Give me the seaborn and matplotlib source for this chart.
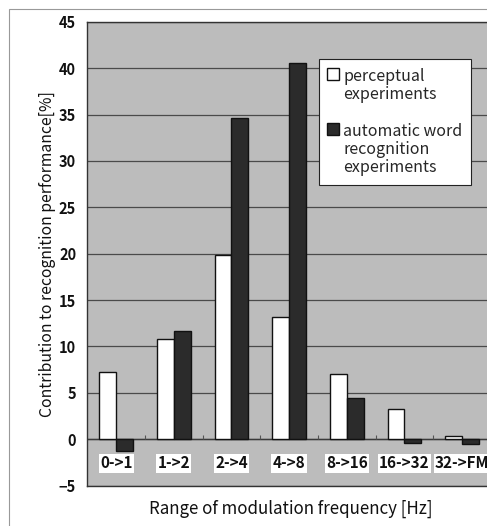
import matplotlib
matplotlib.use("Agg")
import matplotlib.pyplot as plt
import matplotlib.patches as mpatches
import seaborn as sns
import pandas as pd

categories = ["0->1", "1->2", "2->4", "4->8", "8->16", "16->32", "32->FM"]
perceptual = [7.25, 10.85, 19.85, 13.15, 7.05, 3.3, 0.35]
automatic = [-1.25, 11.7, 34.6, 40.6, 4.5, -0.45, -0.5]
series_names = ["perceptual\nexperiments", "automatic word\nrecognition\nexperiments"]

sns.set_theme(style="white")
plt.rcParams["font.family"] = ["Noto Sans CJK JP", "DejaVu Sans"]

df = pd.DataFrame({
    "cat": categories * 2,
    "val": perceptual + automatic,
    "series": [series_names[0]] * len(categories) + [series_names[1]] * len(categories),
})

W, H = 487, 526
fig = plt.figure(figsize=(W / 100, H / 100), dpi=100)
ax = fig.add_axes([87.3 / W, 1 - 485.7 / H, (491 - 87.3) / W, (485.7 - 21.7) / H])
ax.set_facecolor("#bcbcbc")

sns.barplot(data=df, x="cat", y="val", hue="series", order=categories,
            hue_order=series_names, palette=["#ffffff", "#2b2b2b"],
            width=0.58, edgecolor="#111111", linewidth=1.0, ax=ax, zorder=3)

ax.set_ylim(-5, 45)
ax.set_xlim(-0.5, 6.5)
ax.set_yticks(range(-5, 50, 5))
ax.yaxis.grid(True, color="#4a4a4a", linewidth=0.9, zorder=1)
ax.set_axisbelow(True)
ax.axhline(0, color="#3a3a3a", linewidth=1.0, zorder=2)
ax.vlines([i + 0.5 for i in range(len(categories) - 1)], 0, 0.45,
          color="#555555", linewidth=0.8, zorder=2)

for s in ["left", "bottom", "right"]:
    ax.spines[s].set_color("#333333")
    ax.spines[s].set_linewidth(1.0)
ax.spines["top"].set_color("#333333")
ax.spines["top"].set_linestyle((0, (1, 1)))
ax.spines["top"].set_linewidth(1.0)

ax.tick_params(axis="y", length=0, pad=8, labelsize=10.5, colors="#111111")
for lab in ax.get_yticklabels():
    lab.set_fontweight("bold")
ax.set_xticks(range(len(categories)))
ax.set_xticklabels(categories, fontweight="bold")
ax.tick_params(axis="x", length=0, pad=-22, labelsize=11, colors="#111111")
for lab in ax.get_xticklabels():
    lab.set_bbox(dict(facecolor="white", edgecolor="none", pad=1.0))
    lab.set_zorder(4)

ax.set_ylabel("Contribution to recognition performance[%]", fontsize=11.3, color="#111111")
ax.yaxis.set_label_coords(-0.0775, 0.5)
ax.set_xlabel("Range of modulation frequency [Hz]", fontsize=12.2, color="#111111")
ax.xaxis.set_label_coords(0.5046, -0.031)

handles, labels = ax.get_legend_handles_labels()
leg = ax.legend(handles, labels, loc="upper left",
                bbox_to_anchor=(318.7 / W, 1 - 59.3 / H), bbox_transform=fig.transFigure,
                frameon=True, fancybox=False, fontsize=11.5, handlelength=0.75,
                handleheight=0.75, handletextpad=0.25, labelspacing=1.3,
                borderpad=0.55, borderaxespad=0)
leg.get_frame().set_edgecolor("#222222")
leg.get_frame().set_linewidth(0.8)
leg.get_frame().set_facecolor("white")
leg.get_frame().set_alpha(1)
for t in leg.get_texts():
    t.set_linespacing(1.05)
for col in leg._legend_handle_box.get_children():
    for hp in col.get_children():
        hp.align = "top"

fig.patches.append(mpatches.Rectangle((9 / W, -0.1), 1.2, 1.1 - 9 / H, transform=fig.transFigure,
                                      fill=False, edgecolor="#999999", linewidth=0.8))

fig.savefig("out.png", dpi=100)
